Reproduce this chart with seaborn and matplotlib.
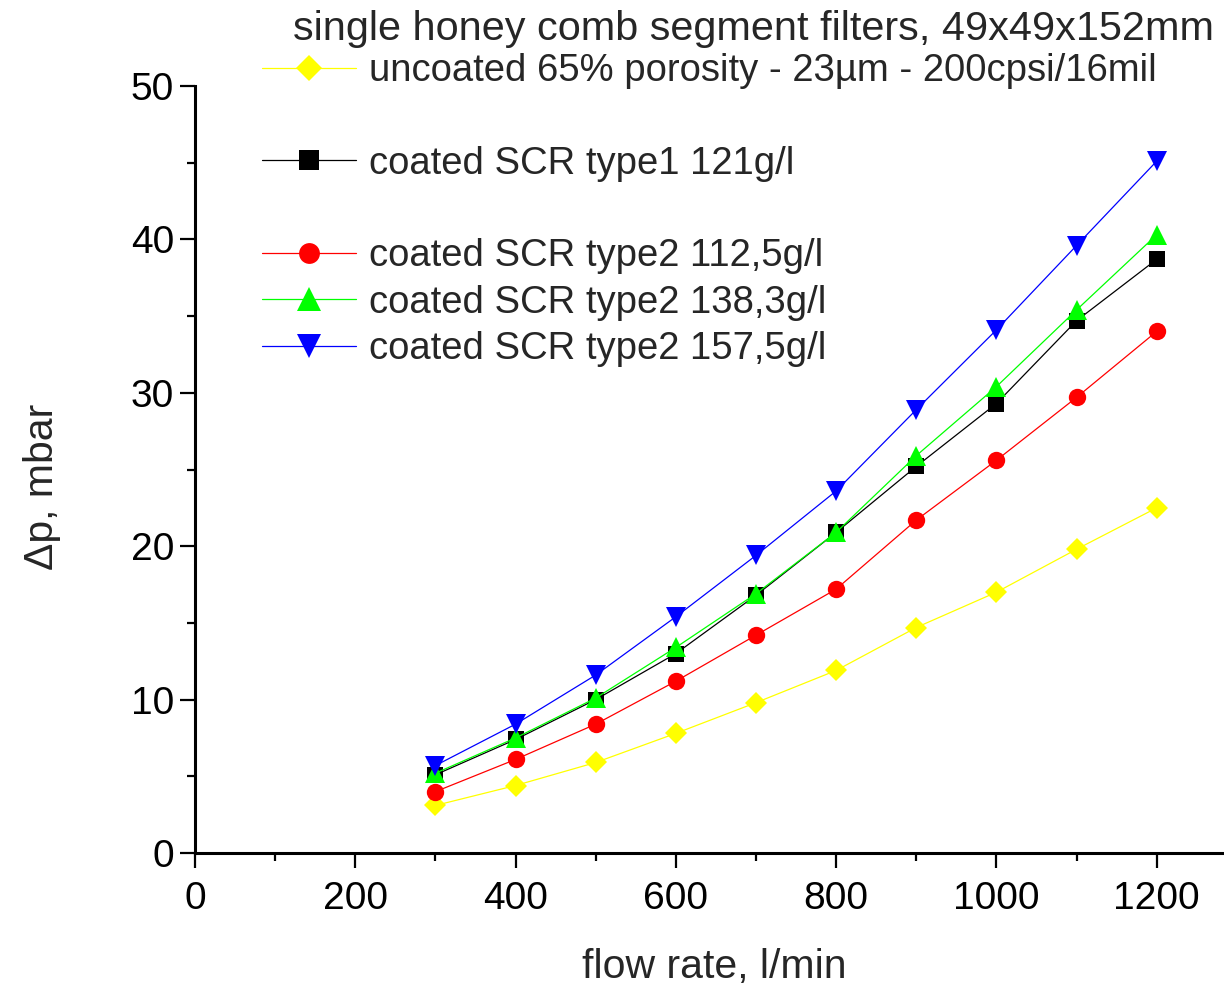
import matplotlib
matplotlib.use("Agg")
import matplotlib.pyplot as plt
from matplotlib.lines import Line2D
from matplotlib.ticker import MultipleLocator
import seaborn as sns
import pandas as pd

# ---- data ----
flow = [300, 400, 500, 600, 700, 800, 900, 1000, 1100, 1200]
uncoated = [3.1, 4.4, 5.9, 7.8, 9.8, 11.9, 14.7, 17.0, 19.8, 22.5]
type1_121 = [5.1, 7.4, 10.0, 13.0, 16.8, 20.9, 25.2, 29.3, 34.7, 38.7]
type2_112 = [4.0, 6.1, 8.4, 11.2, 14.2, 17.2, 21.7, 25.6, 29.7, 34.0]
type2_138 = [5.2, 7.5, 10.1, 13.4, 16.9, 20.9, 25.9, 30.4, 35.4, 40.3]
type2_157 = [5.7, 8.4, 11.6, 15.4, 19.4, 23.6, 28.9, 34.1, 39.6, 45.1]

labels = ["uncoated 65% porosity - 23µm - 200cpsi/16mil",
          "coated SCR type1 121g/l",
          "coated SCR type2 112,5g/l",
          "coated SCR type2 138,3g/l",
          "coated SCR type2 157,5g/l"]
title_text = "single honey comb segment filters, 49x49x152mm"
xlabel = "flow rate, l/min"
ylabel = "\u0394p, mbar"

series = [uncoated, type1_121, type2_112, type2_138, type2_157]
colors = ["#FFFF00", "#000000", "#FF0000", "#00FF00", "#0000FF"]
markers = ["D", "s", "o", "^", "v"]
msizes = [11, 11.5, 12.5, 14, 14]

sns.set_style("ticks")
plt.rcParams["font.family"] = ["Liberation Sans", "DejaVu Sans"]

fig = plt.figure(figsize=(12.24, 9.9), dpi=100)
ax = fig.add_axes([195 / 1224, 137 / 990, 1029 / 1224, 767 / 990])

handles = []
for vals, lab, col, mk, ms in zip(series, labels, colors, markers, msizes):
    df = pd.DataFrame({"flow": flow, "dp": vals})
    sns.lineplot(data=df, x="flow", y="dp", ax=ax, color=col, marker=mk,
                 markersize=ms, markeredgewidth=0, linewidth=0.9,
                 sort=False, legend=False)
    handles.append(ax.get_lines()[-1])

ax.set_xlim(0, 1284)
ax.set_ylim(0, 50)
ax.xaxis.set_major_locator(MultipleLocator(200))
ax.xaxis.set_minor_locator(MultipleLocator(100))
ax.yaxis.set_major_locator(MultipleLocator(10))
ax.yaxis.set_minor_locator(MultipleLocator(5))

for s in ["top", "right"]:
    ax.spines[s].set_visible(False)
for s in ["left", "bottom"]:
    ax.spines[s].set_linewidth(2.2)
    ax.spines[s].set_color("black")

ax.tick_params(axis="both", which="major", direction="out", length=11,
               width=1.6, labelsize=28, colors="black")
ax.tick_params(axis="both", which="minor", direction="out", length=5.5,
               width=1.6, colors="black")
ax.tick_params(axis="x", which="major", pad=9)
ax.tick_params(axis="y", which="major", pad=4)

ax.set_xlabel(xlabel, fontsize=29.5, va="center")
ax.set_ylabel(ylabel, fontsize=29.5, va="center")
ax.xaxis.set_label_coords(0.505, -0.1486)
ax.yaxis.set_label_coords(-0.1487, 0.477)

blank = Line2D([], [], linestyle="none", marker=None)
leg_handles = [handles[0], blank, handles[1], blank, handles[2], handles[3], handles[4]]
leg_labels = [labels[0], " ", labels[1], " ", labels[2], labels[3], labels[4]]
leg = ax.legend(leg_handles, leg_labels, loc="upper left",
                bbox_to_anchor=(262 / 1224, 1 - 53 / 990),
                bbox_transform=fig.transFigure, frameon=False,
                fontsize=27.5, handlelength=2.45, handletextpad=0.35,
                labelspacing=0.27, borderpad=0, borderaxespad=0,
                markerscale=1.2)

fig.text(293 / 1224, 1 - 40 / 990, title_text, fontsize=29.8,
         ha="left", va="baseline")

fig.savefig("out.png", dpi=100)
